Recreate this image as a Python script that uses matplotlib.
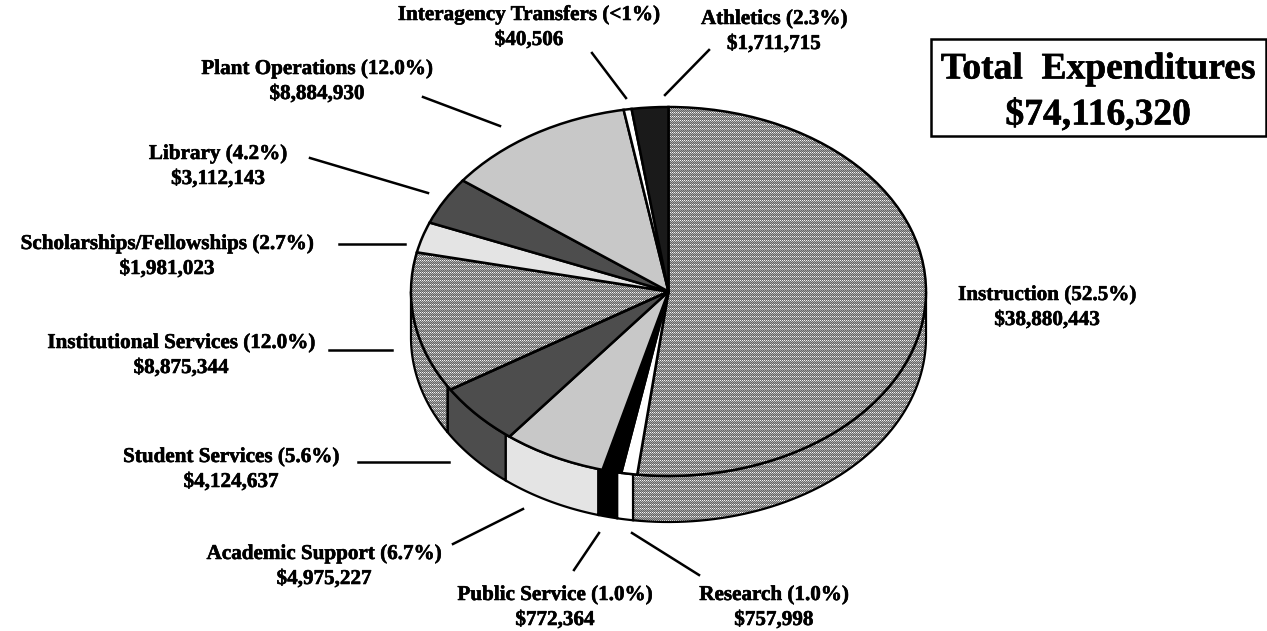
import matplotlib
matplotlib.use('Agg')
import matplotlib.pyplot as plt
import matplotlib.patheffects as pe
import numpy as np

# shares as drawn, clockwise from 12 o'clock
categories = ['Instruction', 'Research', 'Public Service', 'Academic Support', 'Student Services',
              'Institutional Services', 'Scholarships/Fellowships', 'Library', 'Plant Operations',
              'Interagency Transfers', 'Athletics']
shares = [52.2, 1.0, 1.2, 6.5, 5.5, 12.4, 2.7, 4.2, 12.0, 0.5, 2.3]
share_labels = ['52.5%', '1.0%', '1.0%', '6.7%', '5.6%', '12.0%', '2.7%', '4.2%', '12.0%', '<1%', '2.3%']
dollars = ['$38,880,443', '$757,998', '$772,364', '$4,975,227', '$4,124,637', '$8,875,344',
           '$1,981,023', '$3,112,143', '$8,884,930', '$40,506', '$1,711,715']
total_label = '$74,116,320'

top_colors = ['#808080', '#ffffff', '#000000', '#c8c8c8', '#4d4d4d', '#808080',
              '#e4e4e4', '#4d4d4d', '#c8c8c8', '#ffffff', '#1a1a1a']
wall_colors = ['#808080', '#ffffff', '#000000', '#e4e4e4', '#4d4d4d', '#808080',
               '#e4e4e4', '#4d4d4d', '#c8c8c8', '#ffffff', '#1a1a1a']
dotted = [True, False, False, False, False, True, False, False, False, False, False]

# pie geometry in pixels
W, H = 1267, 631
CX, CY = 668.5, 291.5
RX, RY = 257.5, 184.5
DEPTH = 46

# label centre (x, first line y) and leader line, pixels
label_pos = [(1047, 295), (774, 595), (555, 595), (324, 554), (231, 457), (181, 343),
             (167, 244), (218, 154), (317, 69), (529, 15), (774, 19)]
leaders = [None, ((699, 575), (632, 533)), ((574, 570), (599, 533)), ((453, 544), (523, 509)),
           ((358, 462), (449, 462)), ((329, 350), (392, 350)), ((339, 244), (405, 244)),
           ((310, 158), (428, 193)), ((423, 97), (500, 126)), ((592, 53), (626, 98)),
           ((709, 50), (665, 95))]

plt.rcParams['font.family'] = ['Liberation Serif', 'DejaVu Serif']
heavy = [pe.withStroke(linewidth=0.4, foreground='black')]

fig = plt.figure(figsize=(W / 100, H / 100), dpi=100)

# axes scaled so that a unit pie becomes the ellipse
ax = fig.add_axes([0, 0, 1, 1])
XLIM = (-CX / RX, (W - CX) / RX)
YLIM = (-(H - CY) / RY, CY / RY)

# the dither used by the two textured slices, one pixel per cell
tile = np.array([[245, 110, 245, 110],
                 [110, 190, 110, 190],
                 [160, 100, 160, 100],
                 [100, 160, 100, 160]])
dither = np.tile(tile, (H // 4 + 1, W // 4 + 1))[:H, :W]

def textured(patch):
    im = ax.imshow(dither, cmap='gray', vmin=0, vmax=255, interpolation='nearest', aspect='auto',
                   extent=(XLIM[0], XLIM[1], YLIM[0], YLIM[1]), zorder=patch.get_zorder() - 0.5)
    im.set_clip_path(patch)

def wall(a0, a1):
    # a0, a1 in degrees clockwise from top; only the front half shows
    a0 = max(a0, 90)
    a1 = min(a1, 270)
    if a1 <= a0:
        return None
    t = np.radians(np.linspace(a0, a1, 60))
    x = np.sin(t)
    y = np.cos(t)
    d = DEPTH / RY
    return np.r_[x, x[::-1]], np.r_[y, y[::-1] - d]

edges = np.cumsum([0] + shares) * 3.6
for i in range(len(shares)):
    poly = wall(edges[i], edges[i + 1])
    if poly is None:
        continue
    fc = 'none' if dotted[i] else wall_colors[i]
    p = ax.fill(poly[0], poly[1], facecolor=fc, edgecolor='black', linewidth=1.6, zorder=2)[0]
    if dotted[i]:
        textured(p)

wedges, _ = ax.pie(shares, colors=top_colors, startangle=90, counterclock=False, radius=1,
                   wedgeprops={'edgecolor': 'black', 'linewidth': 1.8})
for i, w in enumerate(wedges):
    w.set_zorder(4)
    if dotted[i]:
        w.set_facecolor('none')
        textured(w)
ax.set_aspect('auto')
ax.set_xlim(*XLIM)
ax.set_ylim(*YLIM)
ax.axis('off')

# text layer in pixel coordinates
lab = fig.add_axes([0, 0, 1, 1], facecolor='none')
lab.set_xlim(0, W)
lab.set_ylim(H, 0)
lab.axis('off')

for i, name in enumerate(categories):
    x, y = label_pos[i]
    lab.text(x, y, f'{name} ({share_labels[i]})', ha='center', va='center', fontsize=15.2,
             fontweight='bold', path_effects=heavy)
    lab.text(x, y + 25, dollars[i], ha='center', va='center', fontsize=15.2,
             fontweight='bold', path_effects=heavy)
    if leaders[i]:
        (x0, y0), (x1, y1) = leaders[i]
        lab.plot([x0, x1], [y0, y1], color='black', linewidth=1.8)

lab.add_patch(plt.Rectangle((931, 39), 335, 96.5, facecolor='white', edgecolor='black', linewidth=1.8))
lab.text(1098, 69, 'Total  Expenditures', ha='center', va='center', fontsize=27, fontweight='bold', path_effects=heavy)
lab.text(1098, 115, total_label, ha='center', va='center', fontsize=27, fontweight='bold', path_effects=heavy)

fig.savefig('out.png', dpi=100)
